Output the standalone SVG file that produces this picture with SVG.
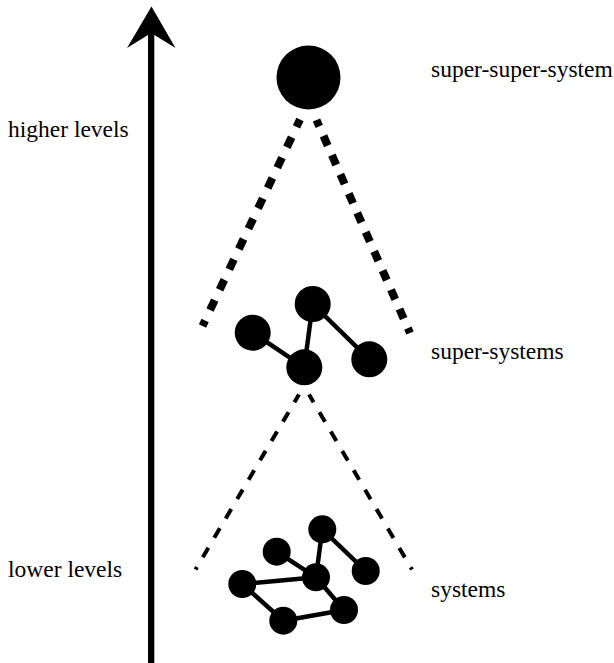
<svg xmlns="http://www.w3.org/2000/svg" width="614" height="663" viewBox="0 0 614 663">
  <style>
    .edge { stroke: #000; stroke-width: 4.5; fill: none; }
    .node { fill: #000; }
    .thick { stroke: #000; stroke-width: 8; fill: none; }
    .thin { stroke: #000; stroke-width: 4; fill: none; }
  </style>

  <!-- vertical level axis -->
  <g id="axis">
    <rect x="148" y="30" width="6.3" height="633" fill="#000"/>
    <path d="M151.5,6.5 L175.5,48 L151.2,33 L127,48 Z" fill="#000"/>
  </g>

  <!-- level labels -->
  <g id="labels" font-family="'Liberation Serif', 'Times New Roman', serif" font-size="23.5" fill="#000">
    <text x="8" y="137">higher levels</text>
    <text x="8" y="577">lower levels</text>
    <text x="431" y="77">super-super-system</text>
    <text x="431" y="359">super-systems</text>
    <text x="431" y="597">systems</text>
  </g>

  <!-- connectors between levels -->
  <g id="connectors">
    <line class="thick" x1="300" y1="119.5" x2="202.5" y2="326" stroke-dasharray="11 11.5" stroke-dashoffset="2.8"/>
    <line class="thick" x1="316.5" y1="120" x2="410" y2="333" stroke-dasharray="10.5 10.5" stroke-dashoffset="3.6"/>
    <line class="thin" x1="299" y1="394.5" x2="195.5" y2="569.5" stroke-dasharray="11 11.5" stroke-dashoffset="2"/>
    <line class="thin" x1="309" y1="394.5" x2="412" y2="569.5" stroke-dasharray="11 11.5" stroke-dashoffset="2"/>
  </g>

  <!-- top level: single super-super-system -->
  <g id="super-super-system">
    <circle class="node" cx="308.5" cy="77.5" r="32"/>
  </g>

  <!-- middle level: super-systems -->
  <g id="super-systems">
    <line class="edge" x1="252.7" y1="332.7" x2="304.3" y2="367.3"/>
    <line class="edge" x1="312.7" y1="304" x2="304.3" y2="367.3"/>
    <line class="edge" x1="312.7" y1="304" x2="369.3" y2="359.3"/>
    <circle class="node" cx="252.7" cy="332.7" r="18"/>
    <circle class="node" cx="312.7" cy="304" r="18"/>
    <circle class="node" cx="304.3" cy="367.3" r="18"/>
    <circle class="node" cx="369.3" cy="359.3" r="18"/>
  </g>

  <!-- bottom level: systems -->
  <g id="systems">
    <line class="edge" x1="276.7" y1="551.7" x2="316" y2="577.3"/>
    <line class="edge" x1="322.3" y1="529.3" x2="316" y2="577.3"/>
    <line class="edge" x1="322.3" y1="529.3" x2="365.7" y2="571"/>
    <line class="edge" x1="242.3" y1="584" x2="316" y2="577.3"/>
    <line class="edge" x1="242.3" y1="584" x2="283.3" y2="620.7"/>
    <line class="edge" x1="283.3" y1="620.7" x2="344" y2="610"/>
    <line class="edge" x1="316" y1="577.3" x2="344" y2="610"/>
    <circle class="node" cx="276.7" cy="551.7" r="14"/>
    <circle class="node" cx="322.3" cy="529.3" r="14"/>
    <circle class="node" cx="365.7" cy="571" r="14"/>
    <circle class="node" cx="316" cy="577.3" r="14"/>
    <circle class="node" cx="242.3" cy="584" r="14"/>
    <circle class="node" cx="283.3" cy="620.7" r="14"/>
    <circle class="node" cx="344" cy="610" r="14"/>
  </g>
</svg>
